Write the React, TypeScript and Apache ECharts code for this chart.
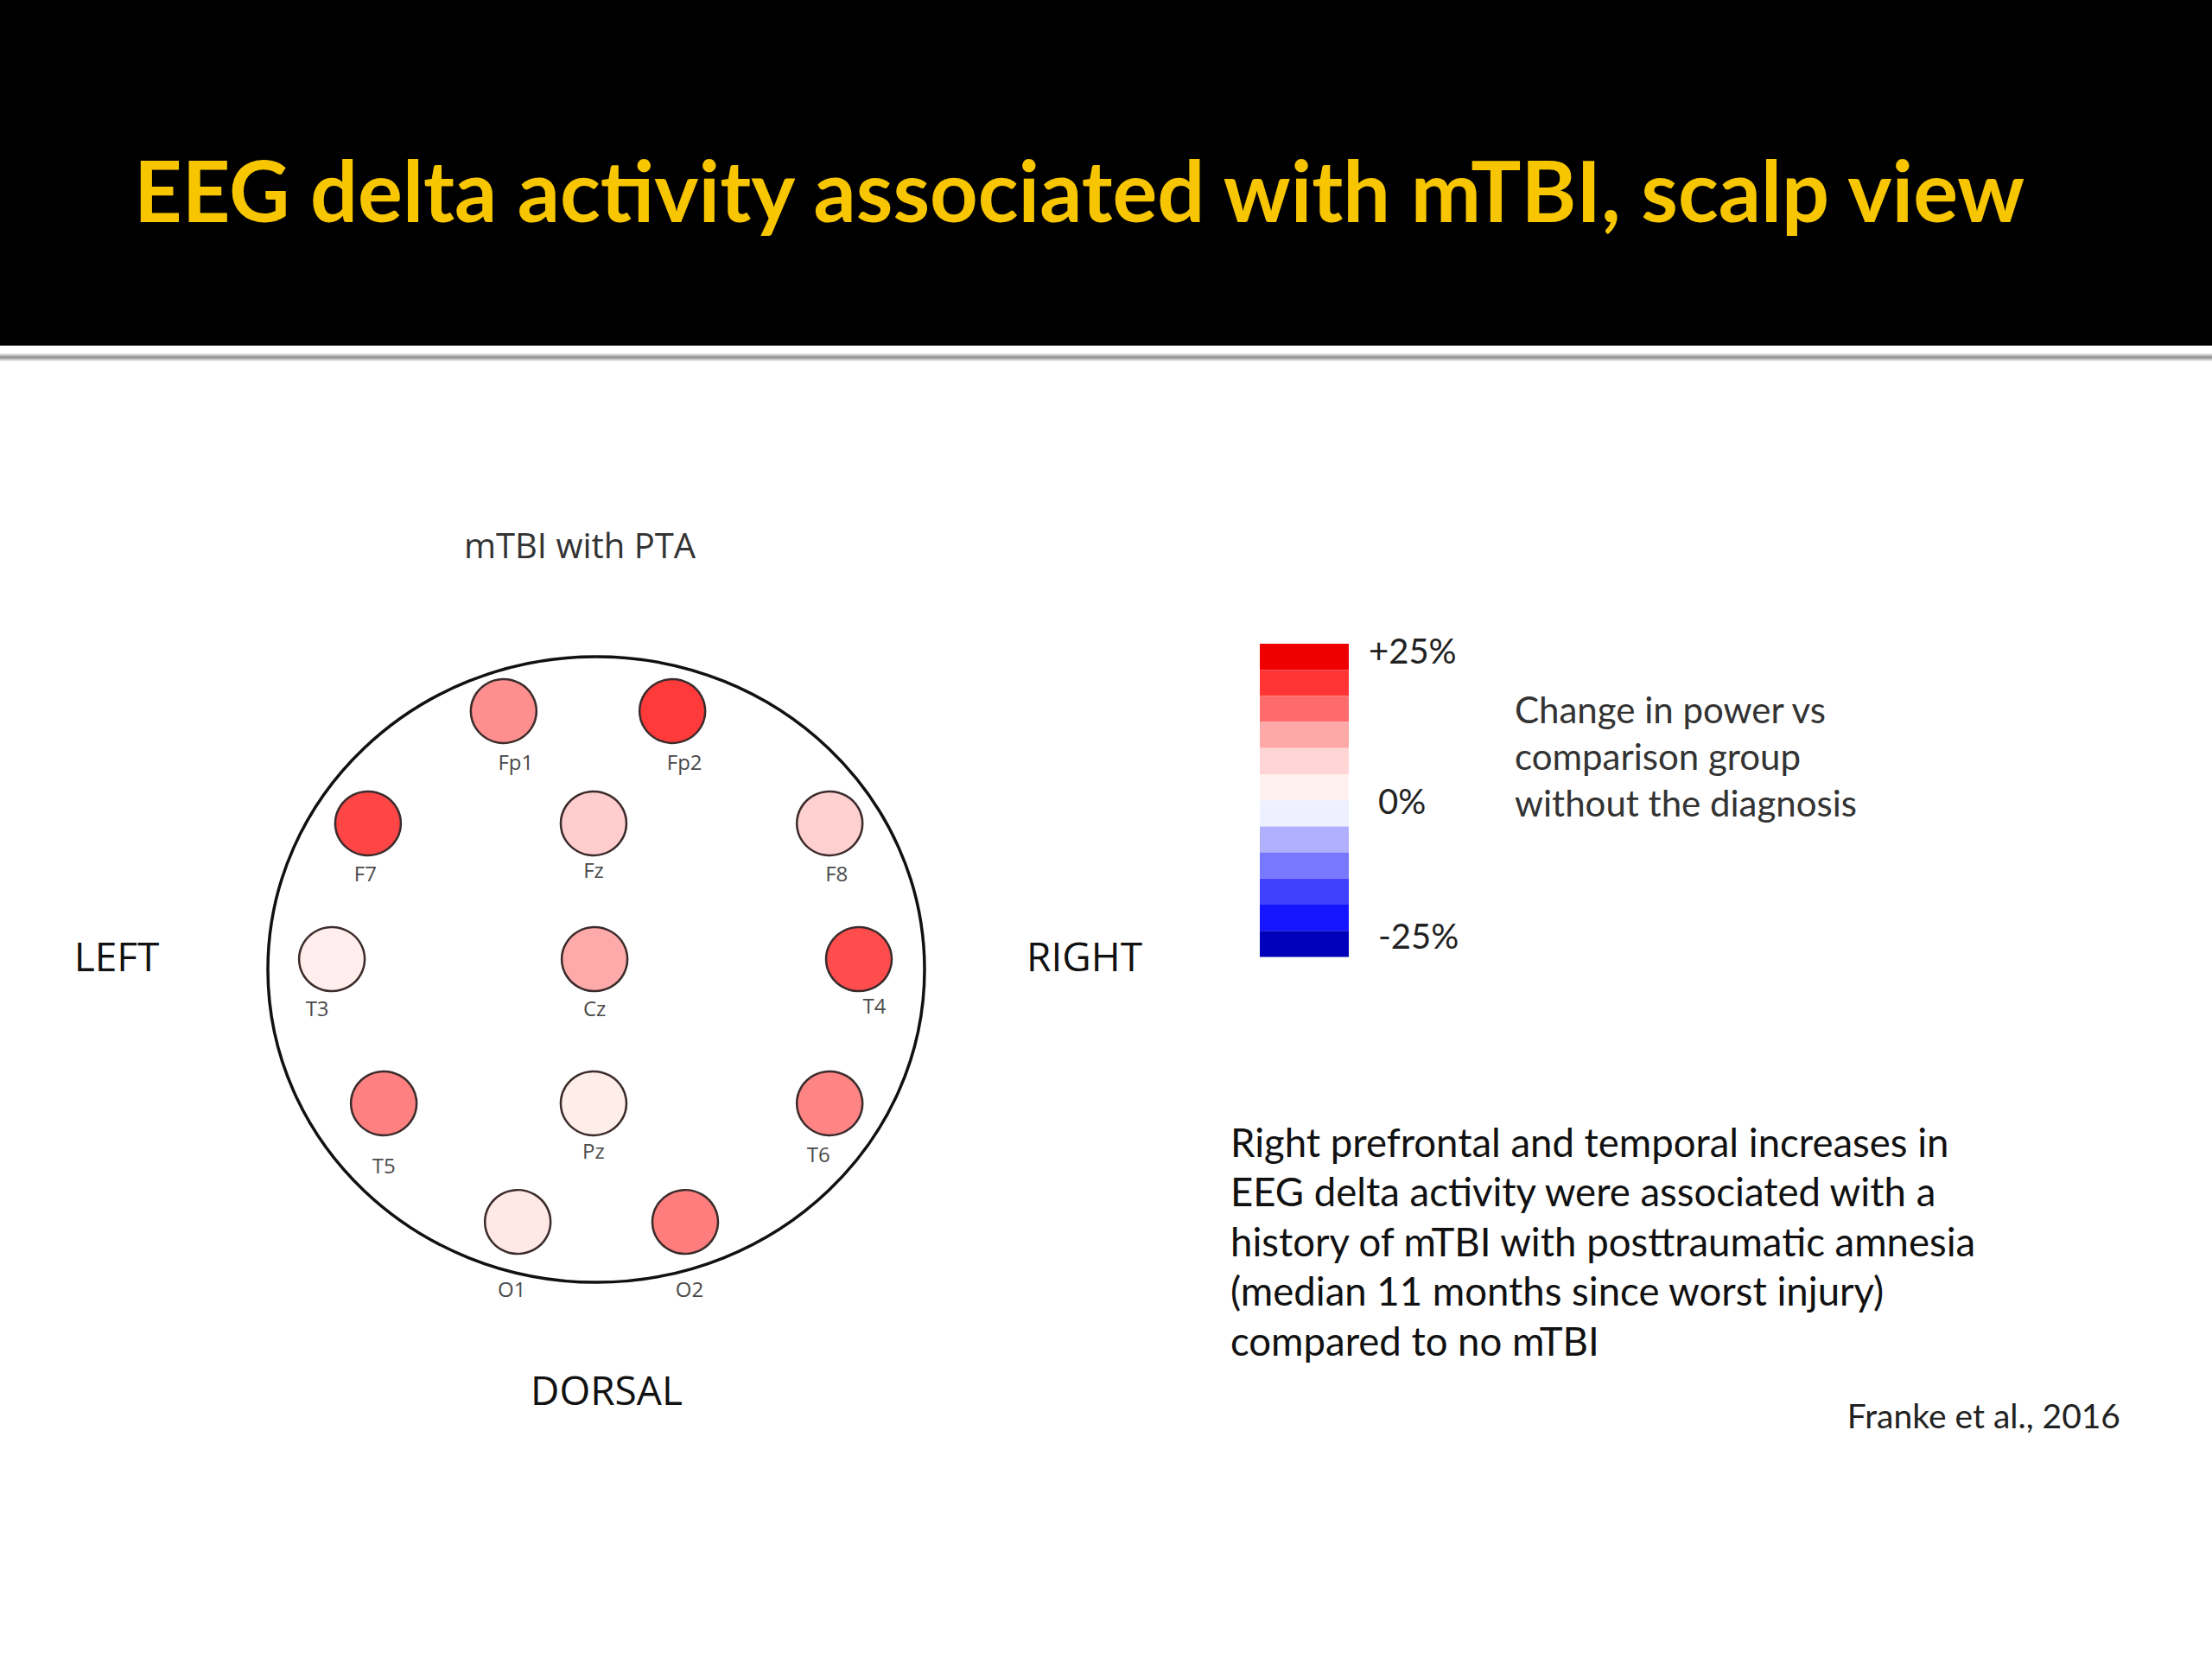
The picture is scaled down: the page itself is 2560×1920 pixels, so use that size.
import React, { useEffect, useRef } from "react";
import * as echarts from "echarts";

// ---- data ----
const electrodeNames = ["Fp1", "Fp2", "F7", "Fz", "F8", "T3", "Cz", "T4", "T5", "Pz", "T6", "O1", "O2"];
// scalp coordinates normalised to the head outline (x: left→right, y: back→front)
const electrodeX = [-0.282, 0.232, -0.695, -0.008, 0.711, -0.805, -0.005, 0.8, -0.647, -0.008, 0.711, -0.239, 0.271];
const electrodeY = [0.826, 0.826, 0.467, 0.467, 0.467, 0.033, 0.033, 0.033, -0.428, -0.428, -0.428, -0.807, -0.807];
// change in delta power vs comparison group (%)
const deltaChange = [13.2, 20, 19, 7.6, 7.3, 2.9, 11.2, 18.5, 14.3, 3, 13.9, 3.8, 14.5];

const scaleMin = -25;
const scaleMax = 25;
const legendColors = [
  "#0000BB", "#1515FF", "#4040FF", "#7878FF", "#B0B0FF", "#EEF0FF",
  "#FFF2EE", "#FFD5D5", "#FFA8A8", "#FF6A6A", "#FF3535", "#EE0000",
];
const tickLabels = ["+25%", "0%", "-25%"];

const titleText = "EEG delta activity associated with mTBI, scalp view";
const panelTitle = "mTBI with PTA";
const legendCaption = ["Change in power vs", "comparison group", "without the diagnosis"];
const summaryLines = [
  "Right prefrontal and temporal increases in",
  "EEG delta activity were associated with a",
  "history of mTBI with posttraumatic amnesia",
  "(median 11 months since worst injury)",
  "compared to no mTBI",
];
const citation = "Franke et al., 2016";

// ---- presentation ----
const HEAD = { cx: 690, cy: 1122, rx: 380, ry: 362 };
const labelNudge: Record<string, [number, number]> = {
  Fp1: [14, 3], Fp2: [14, 3], F7: [-3, 2], Fz: [0, -2], F8: [8, 2],
  T3: [-17, 1], Cz: [0, 1], T4: [18, -2], T5: [0, 16], Pz: [0, -1],
  T6: [-13, 3], O1: [-7, 22], O2: [5, 22],
};

function txt(text: string, x: number, y: number, font: string, fill: string, align = "left") {
  return {
    type: "text",
    style: {
      text, x, y, font, fill,
      textAlign: align, align,
      textVerticalAlign: "middle", verticalAlign: "middle",
    },
  };
}

export default function App() {
  const ref = useRef<HTMLDivElement>(null);
  useEffect(() => {
    if (!ref.current) return;
    const chart = echarts.init(ref.current, null, { renderer: "svg" });
    const step = (scaleMax - scaleMin) / legendColors.length;
    const pieces = legendColors.map((c, i) => ({
      gte: scaleMin + i * step,
      lt: scaleMin + (i + 1) * step,
      color: c,
    }));
    const data = electrodeNames.map((n, i) => ({
      name: n,
      value: [electrodeX[i], electrodeY[i], deltaChange[i]],
      label: { offset: labelNudge[n] },
    }));
    const graphic: any[] = [
      { type: "rect", shape: { x: 0, y: 0, width: 2560, height: 400 }, style: { fill: "#000" }, z: 0 },
      {
        type: "rect", shape: { x: 0, y: 409, width: 2560, height: 9 },
        style: {
          fill: new echarts.graphic.LinearGradient(0, 0, 0, 1, [
            { offset: 0, color: "#f2f2f2" },
            { offset: 0.5, color: "#8c8c8c" },
            { offset: 1, color: "#f2f2f2" },
          ]),
        },
      },
      txt(titleText, 155, 219, "bold 97px Lato", "#F7C600"),
      txt(panelTitle, 671, 630, "40px 'Open Sans'", "#333", "center"),
      {
        type: "ellipse",
        shape: { cx: HEAD.cx, cy: HEAD.cy, rx: HEAD.rx, ry: HEAD.ry },
        style: { fill: "none", stroke: "#111", lineWidth: 3.5 },
        z: 1,
      },
      txt("LEFT", 135, 1106, "46px 'Open Sans'", "#111", "center"),
      txt("RIGHT", 1255, 1106, "46px 'Open Sans'", "#111", "center"),
      txt("DORSAL", 702, 1608, "46px 'Open Sans'", "#111", "center"),
      txt(tickLabels[0], 1584, 753, "40px Lato", "#222"),
      txt(tickLabels[1], 1595, 927, "40px Lato", "#222"),
      txt(tickLabels[2], 1595, 1083, "40px Lato", "#222"),
      ...legendCaption.map((l, i) => txt(l, 1753, 821 + i * 54, "42px Lato", "#333")),
      ...summaryLines.map((l, i) => txt(l, 1424, 1321 + i * 57.5, "45.5px Lato", "#111")),
      txt(citation, 2454, 1638, "39px Lato", "#222", "right"),
    ];
    chart.setOption({
      animation: false,
      backgroundColor: "#fff",
      grid: {
        left: HEAD.cx - HEAD.rx, top: HEAD.cy - HEAD.ry,
        width: HEAD.rx * 2, height: HEAD.ry * 2,
      },
      xAxis: { type: "value", min: -1, max: 1, show: false },
      yAxis: { type: "value", min: -1, max: 1, show: false },
      visualMap: [
        {
          type: "continuous", show: false, seriesIndex: 0, dimension: 2,
          min: scaleMin, max: scaleMax, inRange: { color: legendColors },
        },
        {
          type: "piecewise", seriesIndex: 1, dimension: 0,
          pieces, showLabel: false, itemSymbol: "rect",
          itemWidth: 103, itemHeight: 30.2, itemGap: 0, padding: 0,
          left: 1458, top: 745, orient: "vertical", selectedMode: false, hoverLink: false,
        },
      ],
      series: [
        {
          type: "scatter",
          data,
          symbol: "circle",
          symbolSize: [76, 74],
          itemStyle: { borderColor: "#3b2b2b", borderWidth: 2.5, opacity: 1 },
          label: {
            show: true, position: "bottom", distance: 5,
            formatter: "{b}", fontFamily: "'Open Sans'", fontSize: 24, color: "#4a4a4a",
          },
          z: 3,
        },
        { type: "scatter", data: [] },
      ],
      graphic,
    });
    return () => chart.dispose();
  }, []);
  return <div ref={ref} style={{ position: "absolute", left: 0, top: 0, width: 2560, height: 1920 }} />;
}
